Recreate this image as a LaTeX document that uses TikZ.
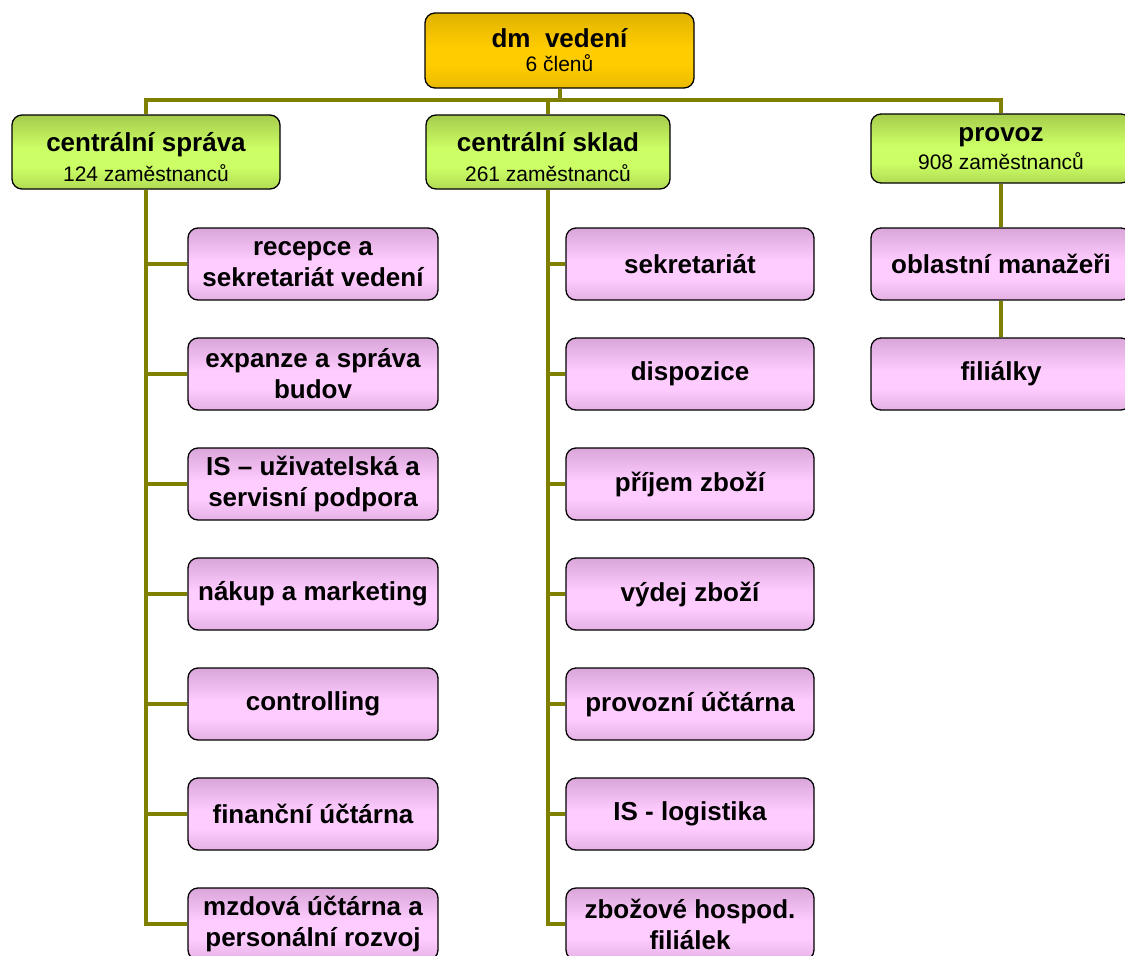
\documentclass[tikz,border=0pt]{standalone}
\usepackage{fontspec}
\setmainfont{Liberation Sans}
\definecolor{olivelink}{RGB}{128,128,0}
\definecolor{goldtop}{RGB}{224,178,0}
\definecolor{goldmid}{RGB}{255,204,0}
\definecolor{greentop}{RGB}{166,204,76}
\definecolor{greenmid}{RGB}{204,255,102}
\definecolor{pinktop}{RGB}{218,166,218}
\definecolor{pinkmid}{RGB}{255,204,255}
% svisle prechody: tmavsi nahore a dole, svetly pruh uprostred
\pgfdeclareverticalshading{goldshade}{100bp}{color(0bp)=(goldtop!70!goldmid); color(25bp)=(goldtop!70!goldmid);
	color(40bp)=(goldmid); color(52bp)=(goldmid); color(75bp)=(goldtop); color(100bp)=(goldtop)}
\pgfdeclareverticalshading{greenshade}{100bp}{color(0bp)=(greentop!70!greenmid); color(25bp)=(greentop!70!greenmid);
	color(40bp)=(greenmid); color(52bp)=(greenmid); color(75bp)=(greentop); color(100bp)=(greentop)}
\pgfdeclareverticalshading{pinkshade}{100bp}{color(0bp)=(pinktop!70!pinkmid); color(25bp)=(pinktop!70!pinkmid);
	color(40bp)=(pinkmid); color(52bp)=(pinkmid); color(75bp)=(pinktop); color(100bp)=(pinktop)}
\begin{document}
\begin{tikzpicture}[x=1pt,y=-1pt,
	box/.style = {draw=black, line width=1.3pt, rounded corners=10pt, inner sep=0pt, align=center,
		font=\fontsize{26}{31}\selectfont\bfseries},
	headbox/.style = {box, shading=goldshade, minimum width=269pt, minimum height=75pt},
	deptbox/.style = {box, shading=greenshade, minimum height=74pt},
	unitbox/.style = {box, shading=pinkshade, minimum height=72pt},
	link/.style = {draw=olivelink, line width=4pt}]
	\useasboundingbox (0,0) rectangle (1125,956);
	\coordinate (bus) at (0,100);
	% vedeni
	\node[headbox] (vedeni) at (559.5,50.5) {dm\ \ vedení\\[-7pt]{\fontsize{21}{25}\selectfont\mdseries 6 členů}};
	% oddeleni
	\node[deptbox, minimum width=268pt] (sprava) at (146,152) {\rule{0pt}{30pt}centrální správa\\[-1pt]{\fontsize{21}{25}\selectfont\mdseries 124 zaměstnanců}};
	\node[deptbox, minimum width=244pt] (sklad) at (548,152) {\rule{0pt}{30pt}centrální sklad\\[-1pt]{\fontsize{21}{25}\selectfont\mdseries 261 zaměstnanců}};
	\node[deptbox, minimum width=260pt, minimum height=69pt] (provoz) at (1001,148.5) {provoz\\[-3pt]{\fontsize{21}{25}\selectfont\mdseries 908 zaměstnanců}};
	% centralni sprava
	\foreach \txt [count=\i] in {{recepce a\\sekretariát vedení},{expanze a správa\\budov},
		{IS – uživatelská a\\servisní podpora},{nákup a marketing},{controlling},
		{finanční účtárna},{mzdová účtárna a\\personální rozvoj}}
		\node[unitbox, minimum width=250pt] (s\i) at (313,154+110*\i) {\txt};
	% centralni sklad
	\foreach \txt [count=\i] in {{sekretariát},{dispozice},{příjem zboží},{výdej zboží},
		{provozní účtárna},{IS - logistika},{zbožové hospod.\\filiálek}}
		\node[unitbox, minimum width=248pt] (k\i) at (690,154+110*\i) {\txt};
	% provoz
	\node[unitbox, minimum width=260pt] (p1) at (1001,264) {oblastní manažeři};
	\node[unitbox, minimum width=260pt] (p2) at (1001,374) {filiálky};
	% spojnice
	\draw[link] (vedeni.south) -- (vedeni.south |- bus);
	\draw[link] (sprava.north) -- (sprava.north |- bus) -- (provoz.north |- bus) -- (provoz.north);
	\draw[link] (sklad.north) -- (sklad.north |- bus);
	\draw[link] (sprava.south) -- (sprava.south |- s7.west) -- (s7.west);
	\draw[link] (sklad.south) -- (sklad.south |- k7.west) -- (k7.west);
	\foreach \i in {1,...,6} {
		\draw[link] (sprava.south |- s\i.west) -- (s\i.west);
		\draw[link] (sklad.south |- k\i.west) -- (k\i.west);
	}
	\draw[link] (provoz.south) -- (p1.north);
	\draw[link] (p1.south) -- (p2.north);
\end{tikzpicture}
\end{document}
